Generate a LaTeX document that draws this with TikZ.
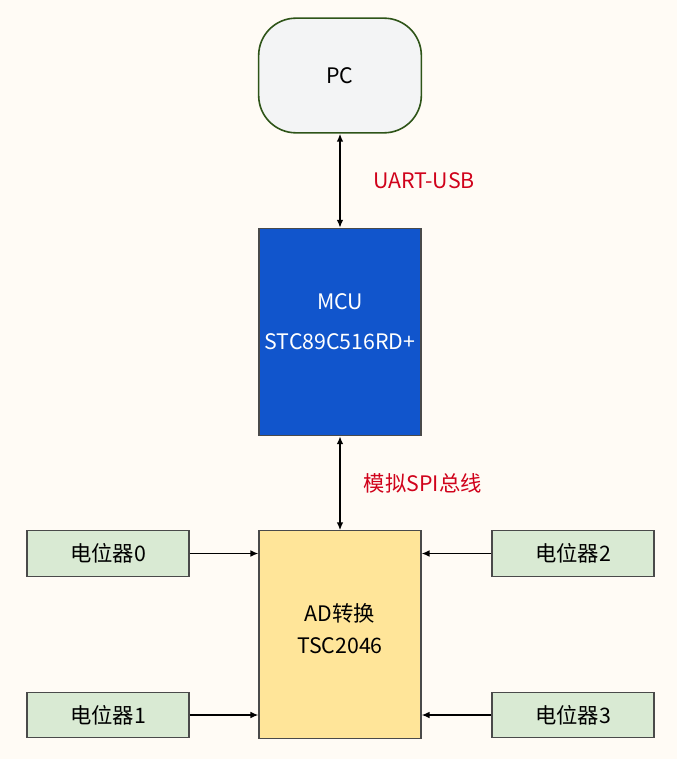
\documentclass[tikz,border=0pt]{standalone}
\usepackage{fontspec}
\setmainfont{Noto Sans CJK SC}
\usetikzlibrary{arrows.meta}
\definecolor{bgcream}{HTML}{FFFBF5}
\definecolor{pcgreen}{HTML}{2E5418}
\definecolor{pcgray}{HTML}{F3F4F5}
\definecolor{mcublue}{HTML}{1155CC}
\definecolor{adyellow}{HTML}{FFE599}
\definecolor{potgreen}{HTML}{D9EAD3}
\definecolor{edgegray}{HTML}{4A4A4A}
\definecolor{busred}{HTML}{D0021B}

\begin{document}
\begin{tikzpicture}[
    x=0.75pt, y=-0.75pt,
    font=\fontsize{16}{19}\selectfont,
    block/.style={rectangle, draw=edgegray, line width=0.8pt, minimum width=121.5pt, minimum height=155.5pt, inner sep=0pt},
    boxtext/.style={align=center, font=\fontsize{16}{19}\selectfont},
    pot/.style={rectangle, draw=edgegray, line width=0.8pt, fill=potgreen, minimum width=121.5pt, minimum height=34pt},
    link/.style={line width=1.2pt, {Latex[length=6pt,width=5pt]}-{Latex[length=6pt,width=5pt]}},
    feed/.style={line width=1.2pt, -{Latex[length=6pt,width=5pt]}},
    buslabel/.style={text=busred, font=\fontsize{16}{19}\selectfont},
]

\fill[bgcream] (0,0) rectangle (677,759);
\useasboundingbox (0,0) rectangle (677,759);

% host and controller
\node[rectangle, rounded corners=28pt, draw=pcgreen, line width=1.2pt, fill=pcgray,
      minimum width=122pt, minimum height=86pt] (pc) at (340,75.5) {PC};
\node[block, fill=mcublue,
      label={[boxtext, text=white, yshift=7.5pt]center:{MCU\\[11pt]STC89C516RD+}}] (mcu) at (340,332) {};
\node[block, fill=adyellow,
      label={[boxtext, yshift=4.5pt]center:{AD转换\\[5pt]TSC2046}}] (ad) at (340,634.5) {};

% potentiometers
\node[pot] (pot0) at (108,553.5) {电位器0};
\node[pot] (pot1) at (108,715) {电位器1};
\node[pot] (pot2) at (573,553.5) {电位器2};
\node[pot] (pot3) at (573,715) {电位器3};

% buses
\draw[link] (pc) -- (mcu) node[midway, buslabel, right=21pt] (uart) {UART-USB};
\draw[link] (mcu) -- (ad) node[midway, buslabel, right=14pt] (spi) {模拟SPI总线};

\draw[feed] (pot0) -- (pot0 -| ad.west);
\draw[feed] (pot1) -- (pot1 -| ad.west);
\draw[feed] (pot2) -- (pot2 -| ad.east);
\draw[feed] (pot3) -- (pot3 -| ad.east);

\end{tikzpicture}
\end{document}
